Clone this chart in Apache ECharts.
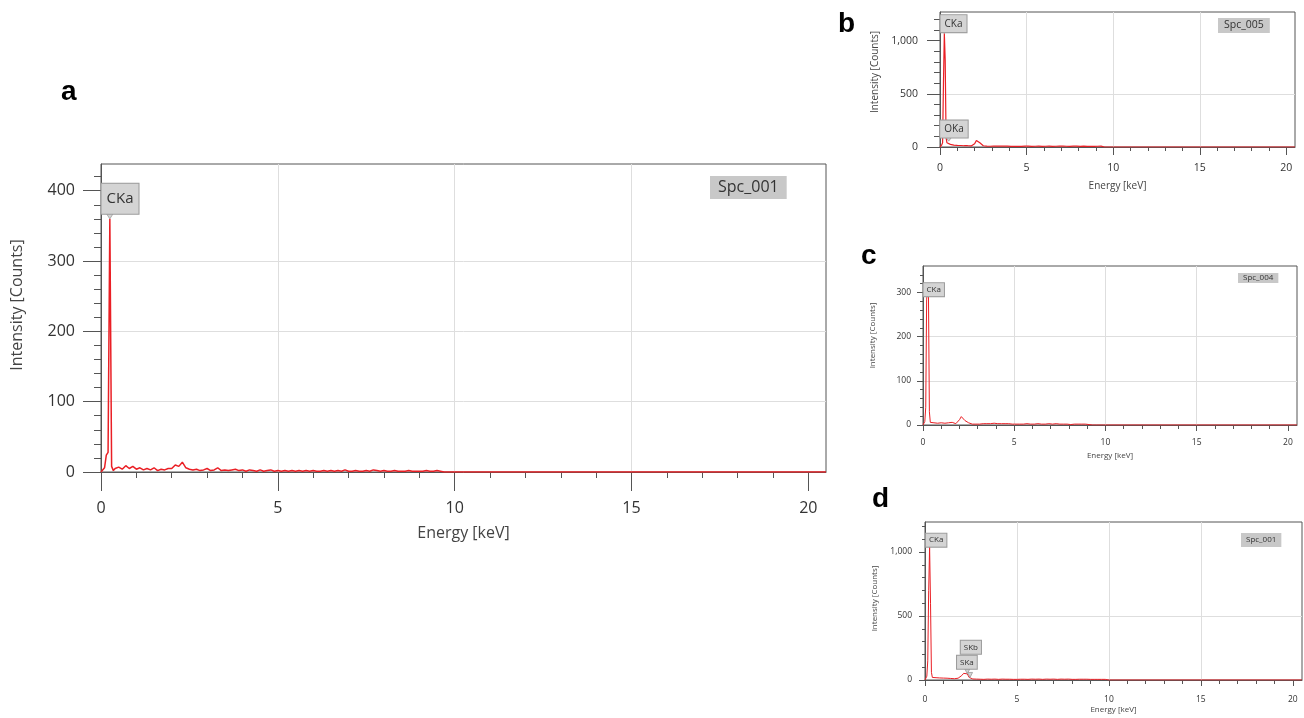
<!DOCTYPE html>
<html>
<head>
<meta charset="utf-8">
<script src="https://cdn.jsdelivr.net/npm/echarts@6/dist/echarts.min.js"></script>
<style>
  html, body { margin: 0; padding: 0; background: #fff; }
  #chart { width: 1304px; height: 718px; }
</style>
</head>
<body>
<div id="chart"></div>
<script>
// energy channels (keV) shared by the four EDS spectra
const energy = [
  0, 0.05, 0.1, 0.15, 0.2, 0.25, 0.3, 0.35, 0.4, 0.45, 0.5,
  0.6, 0.7, 0.8, 0.9, 1.0, 1.1, 1.2, 1.3, 1.4, 1.5,
  1.6, 1.7, 1.8, 1.9, 2.0, 2.1, 2.2, 2.3, 2.4, 2.5,
  2.6, 2.7, 2.8, 2.9, 3.0, 3.1, 3.2, 3.3, 3.4, 3.5,
  3.6, 3.7, 3.8, 3.9, 4.0, 4.1, 4.2, 4.3, 4.4, 4.5,
  4.6, 4.7, 4.8, 4.9, 5.0, 5.1, 5.2, 5.3, 5.4, 5.5,
  5.6, 5.7, 5.8, 5.9, 6.0, 6.1, 6.2, 6.3, 6.4, 6.5,
  6.6, 6.7, 6.8, 6.9, 7.0, 7.1, 7.2, 7.3, 7.4, 7.5,
  7.6, 7.7, 7.8, 7.9, 8.0, 8.1, 8.2, 8.3, 8.4, 8.5,
  8.6, 8.7, 8.8, 8.9, 9.0, 9.1, 9.2, 9.3, 9.4, 9.5,
  9.6, 9.7, 9.8, 9.9, 10.0,
  20.5
];

// a - Spc_001
const countsA = [
  0, 1, 6, 24, 28, 360, 8, 2, 5, 3, 7,
  4, 9, 5, 8, 4, 6, 3, 5, 3, 6,
  2, 4, 3, 5, 5, 10, 8, 14, 6, 4,
  3, 4, 2, 3, 5, 2, 3, 6, 2, 3,
  2, 3, 4, 2, 3, 1, 3, 2, 1, 3,
  1, 2, 3, 1, 2, 1, 2, 1, 2, 1,
  2, 1, 2, 1, 2, 1, 1, 2, 1, 2,
  1, 2, 1, 3, 1, 1, 2, 1, 1, 2,
  1, 3, 2, 1, 2, 1, 1, 2, 1, 1,
  1, 2, 1, 1, 1, 1, 2, 1, 1, 2,
  1, 0, 0, 0, 0,
  0
];
// b - Spc_005
const countsB = [
  0, 8, 20, 40, 600, 1070, 820, 90, 40, 30, 55,
  25, 20, 18, 22, 15, 18, 14, 16, 12, 15,
  12, 18, 10, 14, 30, 62, 58, 40, 25, 12,
  10, 8, 9, 7, 8, 9, 7, 8, 6, 8,
  7, 9, 6, 8, 7, 6, 8, 7, 9, 6,
  8, 6, 7, 9, 6, 8, 7, 6, 8, 7,
  6, 8, 7, 6, 9, 7, 6, 8, 7, 6,
  8, 7, 6, 9, 7, 8, 6, 7, 8, 6,
  7, 9, 6, 8, 7, 6, 8, 9, 7, 6,
  8, 7, 9, 6, 8, 7, 9, 8, 6, 0,
  0, 0, 0, 0, 0,
  0
];
// c - Spc_004
const countsC = [
  0, 3, 8, 40, 285, 310, 292, 30, 6, 4, 8,
  5, 6, 4, 7, 5, 6, 4, 7, 5, 4,
  6, 5, 3, 5, 12, 19, 15, 10, 7, 5,
  3, 2, 4, 2, 3, 2, 4, 3, 2, 3,
  2, 3, 2, 4, 2, 3, 2, 3, 2, 3,
  2, 3, 2, 2, 3, 2, 4, 2, 3, 2,
  2, 3, 2, 2, 3, 2, 2, 3, 2, 2,
  3, 2, 2, 3, 2, 2, 2, 3, 2, 2,
  2, 2, 3, 2, 2, 1, 2, 2, 1, 2,
  1, 2, 1, 2, 1, 1, 0, 0, 0, 0,
  0, 0, 0, 0, 0,
  0
];
// d - Spc_001
const countsD = [
  0, 10, 30, 150, 700, 1040, 600, 60, 20, 25, 20,
  18, 22, 16, 20, 15, 18, 14, 16, 12, 15,
  10, 12, 14, 18, 35, 52, 44, 48, 20, 10,
  8, 6, 7, 5, 6, 7, 5, 6, 7, 5,
  6, 5, 7, 6, 5, 6, 7, 5, 6, 5,
  6, 7, 5, 6, 5, 7, 6, 5, 6, 7,
  5, 6, 7, 5, 6, 5, 7, 6, 5, 6,
  7, 5, 6, 5, 7, 6, 5, 6, 7, 5,
  6, 5, 7, 6, 5, 6, 5, 7, 6, 5,
  6, 5, 6, 7, 5, 6, 5, 6, 5, 6,
  5, 6, 5, 4, 0,
  0
];

// peak tags (element lines)
const peaksA = [{ name: 'CKa', energy: 0.25, counts: 360 }];
const peaksB = [{ name: 'CKa', energy: 0.25, counts: 1070 }, { name: 'OKa', energy: 0.5, counts: 55 }];
const peaksC = [{ name: 'CKa', energy: 0.25, counts: 310 }];
const peaksD = [
  { name: 'CKa', energy: 0.25, counts: 1040 },
  { name: 'SKa', energy: 2.3, counts: 48 },
  { name: 'SKb', energy: 2.45, counts: 20 }
];

// tick values
const xMajor = [0, 5, 10, 15, 20];
const xMinor = [1, 2, 3, 4, 6, 7, 8, 9, 11, 12, 13, 14, 16, 17, 18, 19];
const yMajorA = [0, 100, 200, 300, 400];
const yMinorA = [20, 40, 60, 80, 120, 140, 160, 180, 220, 240, 260, 280, 320, 340, 360, 380, 420];
const yMajorC = [0, 100, 200, 300];
const yMinorC = [20, 40, 60, 80, 120, 140, 160, 180, 220, 240, 260, 280, 320, 340];
const yMajorK = [0, 500, 1000];
const yMinorK = [100, 200, 300, 400, 600, 700, 800, 900, 1100, 1200];

const RED = '#ea1f25';
const AXIS = '#555';
const GRID = '#dedede';
const FONT = 'Open Sans';

const panels = [
  {
    letter: 'a', letterPos: [61, 78], spc: 'Spc_001', spcPos: [710, 176], spcFont: 16, spcPad: [3, 8], spcLh: 17,
    grid: { left: 101, top: 164, width: 725, height: 308 }, yMax: 438,
    counts: countsA, peaks: peaksA, yMajor: yMajorA, yMinor: yMinorA,
    font: 16, nameFont: 16, lineWidth: 1.5,
    yTick: [18, 7], xTick: [19, 6], yMargin: 26, xMargin: 28, yNameGap: 76, xNameGap: 53, yNamePad: 26,
    tagFont: 15, tagLh: 18, tagPad: [6, 5], tail: [9, 7], tagOffsets: [[10.2, -16.6]]
  },
  {
    letter: 'b', letterPos: [838, 10], spc: 'Spc_005', spcPos: [1218, 18], spcFont: 10.5, spcPad: [2, 6], spcLh: 11,
    grid: { left: 940, top: 12, width: 355, height: 135 }, yMax: 1270,
    counts: countsB, peaks: peaksB, yMajor: yMajorK, yMinor: yMinorK,
    font: 10.5, nameFont: 10, lineWidth: 1.2,
    yTick: [13, 6], xTick: [8, 4], yMargin: 22, xMargin: 16, yNameGap: 60, xNameGap: 34, yNamePad: 15,
    tagFont: 10, tagLh: 11, tagPad: [3, 4], tail: [6, 4], tagOffsets: [[9.2, -7.6], [5.3, -10.1]]
  },
  {
    letter: 'c', letterPos: [861, 242], spc: 'Spc_004', spcPos: [1238, 273], spcFont: 8, spcPad: [1, 5], spcLh: 8,
    grid: { left: 923, top: 266, width: 374, height: 159 }, yMax: 360,
    counts: countsC, peaks: peaksC, yMajor: yMajorC, yMinor: yMinorC,
    font: 8.5, nameFont: 8, lineWidth: 1,
    yTick: [6, 3], xTick: [6, 4], yMargin: 12, xMargin: 13, yNameGap: 46, xNameGap: 27, yNamePad: 20,
    tagFont: 8, tagLh: 9, tagPad: [2, 3], tail: [5, 3], tagOffsets: [[6.2, 3.1]]
  },
  {
    letter: 'd', letterPos: [872, 485], spc: 'Spc_001', spcPos: [1241, 533], spcFont: 8, spcPad: [3, 5], spcLh: 8,
    grid: { left: 925, top: 522, width: 377, height: 158 }, yMax: 1235,
    counts: countsD, peaks: peaksD, yMajor: yMajorK, yMinor: yMinorK,
    font: 8.5, nameFont: 8, lineWidth: 1,
    yTick: [6, 3], xTick: [6, 4], yMargin: 13, xMargin: 15, yNameGap: 46, xNameGap: 26, yNamePad: 5,
    tagFont: 8, tagLh: 9, tagPad: [2, 3], tail: [5, 5], tagOffsets: [[6.6, -4.3], [-0.4, -9.1], [0.8, -27.7]]
  }
];

const fmt = (v) => v.toLocaleString('en-US');

const option = {
  backgroundColor: '#fff',
  animation: false,
  title: [],
  grid: [],
  xAxis: [],
  yAxis: [],
  series: []
};

panels.forEach((p, i) => {
  option.title.push({
    text: p.letter, left: p.letterPos[0], top: p.letterPos[1], padding: 0,
    textStyle: { fontFamily: 'Liberation Sans', fontWeight: 'bold', fontSize: 28, color: '#000' }
  });
  option.title.push({
    text: p.spc, left: p.spcPos[0], top: p.spcPos[1], padding: p.spcPad, backgroundColor: '#c8c8c8',
    textStyle: { fontFamily: FONT, fontWeight: 'normal', fontSize: p.spcFont, lineHeight: p.spcLh, color: '#333' }
  });

  option.grid.push(Object.assign({ show: true, borderColor: AXIS, borderWidth: 1 }, p.grid));

  // main x axis: labels, major ticks, grid lines
  option.xAxis.push({
    gridIndex: i, type: 'value', min: 0, max: 20.5, interval: 5,
    name: 'Energy [keV]', nameLocation: 'middle', nameGap: p.xNameGap,
    nameTextStyle: { fontFamily: FONT, fontSize: p.nameFont, color: '#444' },
    axisLine: { show: true, onZero: false, lineStyle: { color: AXIS } },
    axisTick: { show: true, customValues: xMajor, length: p.xTick[0], lineStyle: { color: AXIS } },
    axisLabel: { customValues: xMajor, fontFamily: FONT, fontSize: p.font, color: '#333', margin: p.xMargin },
    splitLine: { show: true, showMinLine: false, showMaxLine: false, lineStyle: { color: GRID } }
  });
  // minor x ticks
  option.xAxis.push({
    gridIndex: i, type: 'value', min: 0, max: 20.5, position: 'bottom',
    axisLine: { show: false },
    axisTick: { show: true, customValues: xMinor, length: p.xTick[1], lineStyle: { color: AXIS } },
    axisLabel: { show: false },
    splitLine: { show: false }
  });

  option.yAxis.push({
    gridIndex: i, type: 'value', min: 0, max: p.yMax, interval: p.yMajor[1],
    name: 'Intensity [Counts]', nameLocation: 'middle', nameGap: p.yNameGap,
    nameTextStyle: { fontFamily: FONT, fontSize: p.nameFont, color: '#444', padding: [0, 0, 0, p.yNamePad] },
    axisLine: { show: true, lineStyle: { color: AXIS } },
    axisTick: { show: true, customValues: p.yMajor, length: p.yTick[0], lineStyle: { color: AXIS } },
    axisLabel: { customValues: p.yMajor, formatter: fmt, fontFamily: FONT, fontSize: p.font, color: '#333', margin: p.yMargin },
    splitLine: { show: true, showMinLine: false, showMaxLine: false, lineStyle: { color: GRID } }
  });
  // minor y ticks
  option.yAxis.push({
    gridIndex: i, type: 'value', min: 0, max: p.yMax, position: 'left',
    axisLine: { show: false },
    axisTick: { show: true, customValues: p.yMinor, length: p.yTick[1], lineStyle: { color: AXIS } },
    axisLabel: { show: false },
    splitLine: { show: false }
  });

  option.series.push({
    type: 'line',
    xAxisIndex: 2 * i,
    yAxisIndex: 2 * i,
    data: energy.map((e, k) => [e, p.counts[k]]),
    showSymbol: false,
    symbol: 'none',
    silent: true,
    lineStyle: { color: RED, width: p.lineWidth },
    markPoint: {
      silent: true,
      data: p.peaks.map((pk, k) => ({
        name: pk.name,
        coord: [pk.energy, pk.counts],
        symbol: 'path://M0,0L10,0L5,8Z',
        symbolSize: p.tail,
        symbolOffset: [0, -p.tail[1] / 2],
        itemStyle: { color: '#d4d4d4', borderColor: '#9a9a9a', borderWidth: 0.8 },
        label: {
          show: true, position: 'inside', formatter: '{b}', offset: p.tagOffsets[k],
          fontFamily: FONT, fontSize: p.tagFont, lineHeight: p.tagLh, color: '#333',
          backgroundColor: '#d4d4d4', borderColor: '#9a9a9a', borderWidth: 1, padding: p.tagPad
        }
      }))
    }
  });
});

const chart = echarts.init(document.getElementById('chart'), null, { renderer: 'canvas' });
chart.setOption(option);
window.addEventListener('resize', () => chart.resize());
</script>
</body>
</html>
